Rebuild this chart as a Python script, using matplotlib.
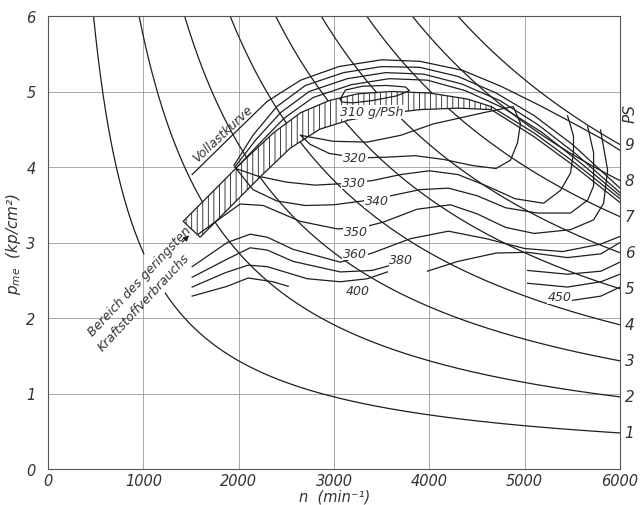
import numpy as np
import matplotlib
matplotlib.use("Agg")
import matplotlib.pyplot as plt

# ---------------- data ----------------
n_ticks = [0, 1000, 2000, 3000, 4000, 5000, 6000]
p_ticks = [0, 1, 2, 3, 4, 5, 6]
ps_levels = [1, 2, 3, 4, 5, 6, 7, 8, 9]
ps_const = 2865.0          # p_me * n per PS (kp/cm2 * min-1)

full_load_n = [1512, 1900, 2300, 2650, 3050, 3500, 3900, 4350, 4750, 5150, 5450, 5800, 6000]
full_load_p = [3.90, 4.38, 4.87, 5.15, 5.33, 5.42, 5.40, 5.28, 5.07, 4.82, 4.62, 4.38, 4.22]

bundle1_n = [1950, 2150, 2400, 2700, 3100, 3500, 3900, 4300, 4700, 5100, 5500, 6000]
bundle1_p = [4.02, 4.42, 4.80, 5.08, 5.25, 5.33, 5.32, 5.20, 4.98, 4.68, 4.30, 3.72]
bundle2_n = [1960, 2180, 2440, 2740, 3140, 3540, 3940, 4340, 4740, 5140, 5540, 6000]
bundle2_p = [4.00, 4.36, 4.72, 5.00, 5.17, 5.25, 5.23, 5.10, 4.88, 4.56, 4.17, 3.66]
bundle3_n = [1970, 2210, 2480, 2780, 3180, 3580, 3980, 4380, 4780, 5180, 5580, 6000]
bundle3_p = [3.98, 4.30, 4.65, 4.92, 5.09, 5.17, 5.15, 5.01, 4.78, 4.46, 4.06, 3.62]

band_upper_n = [1418, 1733, 2048, 2363, 2650, 2950, 3250, 3600, 4000, 4400, 4650]
band_upper_p = [3.28, 3.68, 4.08, 4.45, 4.72, 4.88, 4.97, 5.00, 4.98, 4.90, 4.80]
band_lower_n = [1596, 1911, 2226, 2541, 2850, 3150, 3500, 3900, 4300, 4650]
band_lower_p = [3.07, 3.47, 3.87, 4.25, 4.50, 4.62, 4.70, 4.76, 4.78, 4.76]

strip1_n = [4650, 5100, 5500, 6000]
strip1_p = [4.80, 4.45, 4.08, 3.58]
strip2_n = [4650, 5100, 5500, 6000]
strip2_p = [4.76, 4.40, 4.03, 3.53]

c310_n = [3066, 3120, 3300, 3550, 3750, 3790, 3650, 3400, 3200, 3080, 3066]
c310_p = [4.90, 5.02, 5.07, 5.08, 5.06, 5.01, 4.94, 4.88, 4.85, 4.86, 4.90]

c320_n = [2650, 2993, 3350, 3700, 4040, 4570, 4880, 4956, 4925, 4851, 4700, 4450,
          4150, 3850, 3550, 3250, 2950, 2750, 2650]
c320_p = [4.42, 4.34, 4.33, 4.42, 4.57, 4.72, 4.80, 4.58, 4.32, 4.09, 3.98, 4.02,
          4.10, 4.15, 4.13, 4.12, 4.18, 4.30, 4.42]

c330_n = [1970, 2200, 2500, 2800, 3100, 3400, 3700, 4000, 4300, 4600, 4900, 5198,
          5376, 5481, 5512, 5512, 5450]
c330_p = [3.98, 3.88, 3.80, 3.76, 3.78, 3.82, 3.90, 3.95, 3.90, 3.75, 3.58, 3.52,
          3.69, 3.92, 4.19, 4.41, 4.68]

c340_n = [1960, 2150, 2400, 2700, 3000, 3300, 3600, 3900, 4200, 4500, 4800, 5135,
          5481, 5660, 5723, 5723, 5660]
c340_p = [4.00, 3.70, 3.55, 3.49, 3.50, 3.55, 3.62, 3.70, 3.72, 3.62, 3.46, 3.39,
          3.39, 3.56, 3.75, 4.19, 4.54]

c350_n = [1575, 2016, 2258, 2646, 3035, 3300, 3517, 3870, 4221, 4500, 4800, 5100,
          5481, 5723, 5828, 5870, 5796]
c350_p = [3.11, 3.51, 3.49, 3.28, 3.18, 3.20, 3.27, 3.44, 3.50, 3.38, 3.20, 3.12,
          3.17, 3.30, 3.52, 3.96, 4.49]

c360_n = [1512, 1880, 2120, 2300, 2570, 3066, 3400, 3800, 4200, 4600, 5000, 5400, 5800, 6000]
c360_p = [2.68, 3.00, 3.11, 3.07, 2.91, 2.74, 2.86, 3.05, 3.15, 3.05, 2.92, 2.88, 2.98, 3.08]

c380a_n = [1512, 1880, 2120, 2300, 2570, 3066, 3400, 3600]
c380a_p = [2.54, 2.78, 2.93, 2.90, 2.75, 2.61, 2.63, 2.70]
c380b_n = [3980, 4300, 4700, 5030, 5450, 5800, 6000]
c380b_p = [2.62, 2.75, 2.86, 2.87, 2.80, 2.85, 3.00]

c400a_n = [1512, 1860, 2100, 2300, 2720, 3066, 3350, 3560]
c400a_p = [2.41, 2.60, 2.70, 2.68, 2.52, 2.48, 2.52, 2.61]
c400b_n = [5030, 5450, 5800, 6000]
c400b_p = [2.63, 2.58, 2.62, 2.74]
c420b_n = [5030, 5450, 5800, 6000]
c420b_p = [2.46, 2.41, 2.48, 2.58]

c450a_n = [1512, 1880, 2100, 2360, 2520]
c450a_p = [2.29, 2.42, 2.53, 2.48, 2.42]
c450b_n = [5480, 5800, 6000]
c450b_p = [2.23, 2.29, 2.41]

contour_labels = ["310 g/PSh", "320", "330", "340", "350", "360", "380", "400", "450"]
label_n = [3400, 3224, 3213, 3454, 3234, 3224, 3707, 3245, 5366]
label_p = [4.73, 4.13, 3.80, 3.56, 3.15, 2.86, 2.77, 2.37, 2.28]

# ---------------- figure ----------------
plt.rcParams['hatch.linewidth'] = 0.6
fig = plt.figure(figsize=(6.42, 5.06), dpi=100)
ax = fig.add_axes([48/642, 36/506, 572/642, 453/506])
ax.set_xlim(0, 6000)
ax.set_ylim(0, 6)

ink = '#1e1e1e'
txt = '#333333'
lw = 0.9

ax.set_xticks(n_ticks)
ax.set_yticks(p_ticks)
ax.grid(True, color='#9a9a9a', lw=0.6)
ax.set_axisbelow(True)
ax.tick_params(length=0, labelsize=10.5, colors=txt)
ax.tick_params(axis='x', pad=3)
ax.tick_params(axis='y', pad=9)
for lab in ax.get_xticklabels() + ax.get_yticklabels():
    lab.set_fontstyle('italic')
for s in ax.spines.values():
    s.set_color('#555555')
    s.set_linewidth(0.8)

fig.text(335/642, 1 - 497/506, 'n  (min⁻¹)', fontsize=10.5, fontstyle='italic',
         color=txt, ha='center', va='center')
ax.set_ylabel(r'$p_{me}$  (kp/cm²)', fontsize=11, fontstyle='italic', color=txt, labelpad=2)

# constant power hyperbolas
for k in ps_levels:
    c = k * ps_const
    n0 = c / 6.0
    if k == 1:
        for a, b in [(n0, c / 2.85), (c / 2.33, 6000)]:
            nn = np.linspace(a, b, 200)
            ax.plot(nn, c / nn, color=ink, lw=lw)
    else:
        nn = np.linspace(n0, 6000, 300)
        ax.plot(nn, c / nn, color=ink, lw=lw)
    ax.text(6100, c / 6000, str(k), fontsize=11, fontstyle='italic', color=txt,
            ha='center', va='center', clip_on=False)
ax.text(6105, 9 * ps_const / 6000 + 0.42, 'PS', fontsize=11, fontstyle='italic',
        color=txt, rotation=90, ha='center', va='center', clip_on=False)

# band of lowest consumption (hatched)
band_n = band_upper_n + band_lower_n[::-1] + [band_upper_n[0]]
band_p = band_upper_p + band_lower_p[::-1] + [band_upper_p[0]]
ax.fill(band_n, band_p, facecolor='white', edgecolor=ink, lw=lw, hatch='|||', zorder=3)

lines = [
    (full_load_n, full_load_p), (bundle1_n, bundle1_p), (bundle2_n, bundle2_p),
    (bundle3_n, bundle3_p), (strip1_n, strip1_p), (strip2_n, strip2_p),
    (c310_n, c310_p), (c320_n, c320_p), (c330_n, c330_p), (c340_n, c340_p),
    (c350_n, c350_p), (c360_n, c360_p), (c380a_n, c380a_p), (c380b_n, c380b_p),
    (c400a_n, c400a_p), (c400b_n, c400b_p), (c420b_n, c420b_p),
    (c450a_n, c450a_p), (c450b_n, c450b_p),
]
for xs, ys in lines:
    ax.plot(xs, ys, color=ink, lw=lw, zorder=4)

for t, x, y in zip(contour_labels, label_n, label_p):
    ax.text(x, y, t, fontsize=9, fontstyle='italic', color=txt, ha='center',
            va='center', zorder=6,
            bbox=dict(facecolor='white', edgecolor='none', pad=0.6))

ax.text(1830, 4.45, 'Vollastkurve', fontsize=9, fontstyle='italic', color=txt,
        rotation=43, ha='center', va='center', zorder=6)
ax.text(960, 2.50, 'Bereich des geringsten', fontsize=9, fontstyle='italic',
        color=txt, rotation=47, ha='center', va='center', zorder=6)
ax.text(1000, 2.22, 'Kraftstoffverbrauchs', fontsize=9, fontstyle='italic',
        color=txt, rotation=47, ha='center', va='center', zorder=6)
ax.annotate('', xy=(1500, 3.12), xytext=(1390, 2.98),
            arrowprops=dict(arrowstyle='-|>', color=ink, lw=0.8, mutation_scale=8))

fig.savefig('out.png', dpi=100, facecolor='white')
